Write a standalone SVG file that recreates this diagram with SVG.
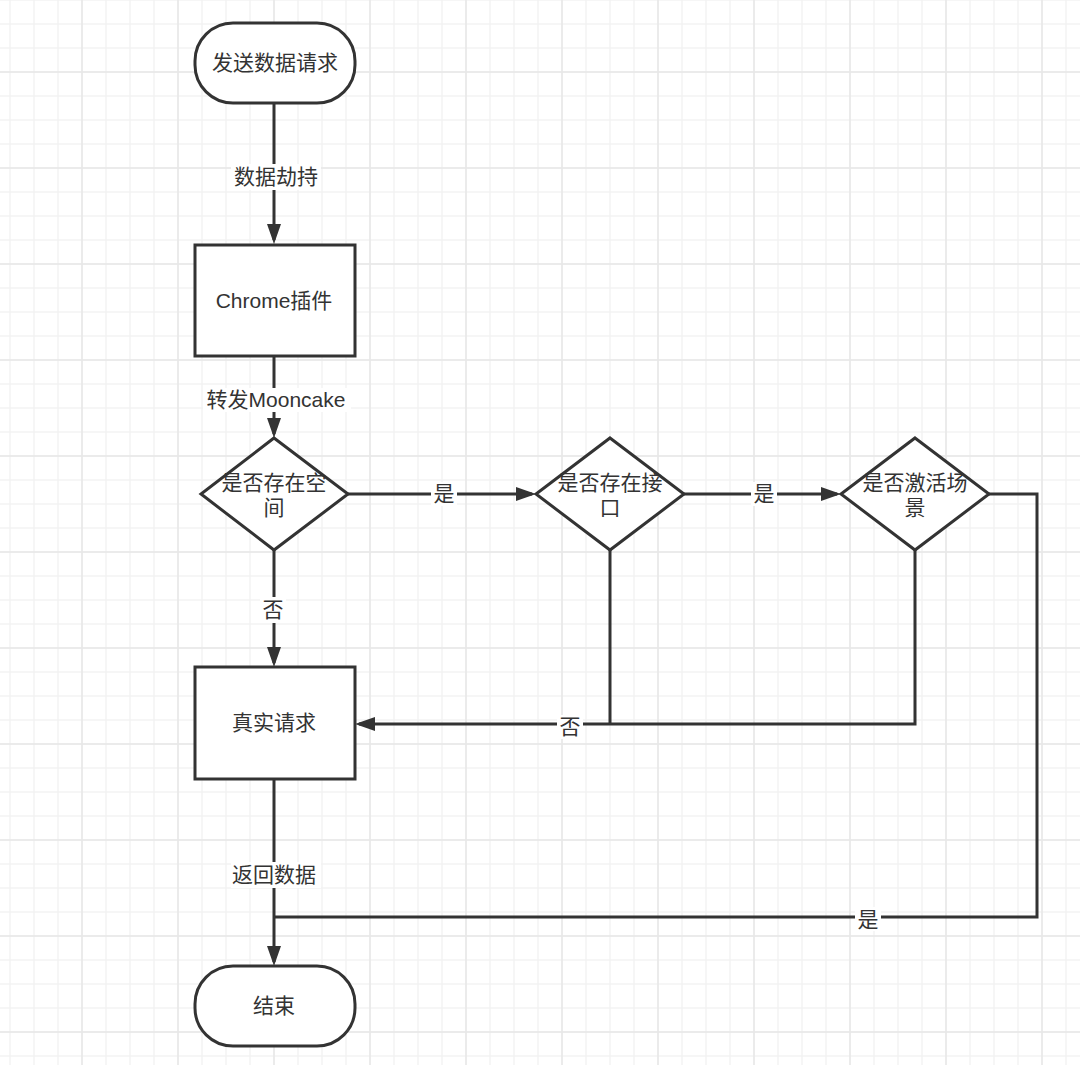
<svg xmlns="http://www.w3.org/2000/svg" width="1080" height="1065" viewBox="0 0 1080 1065">
  <defs>
    <pattern id="gMinor" patternUnits="userSpaceOnUse" x="-2" y="-12" width="24" height="24">
      <path d="M12 0V24M0 12H24" stroke="#f3f3f3" stroke-width="1.5" fill="none"/>
    </pattern>
    <pattern id="gMajor" patternUnits="userSpaceOnUse" x="34" y="24" width="96" height="96">
      <path d="M48 0V96M0 48H96" stroke="#e8e8e8" stroke-width="1.5" fill="none"/>
    </pattern>
    <marker id="arrow" viewBox="0 0 20 14" refX="16" refY="7" markerWidth="20" markerHeight="14" markerUnits="userSpaceOnUse" orient="auto">
      <path d="M0 0L20 7L0 14Z" fill="#333333"/>
    </marker>
  </defs>
  <style>
    .shape { fill: #ffffff; stroke: #333333; stroke-width: 3; }
    .conn { fill: none; stroke: #333333; stroke-width: 3; }
    .txt { font-family: "Liberation Sans", "Noto Sans CJK SC", sans-serif; font-size: 21px; fill: #333333; text-anchor: middle; }
    .lblbg { fill: #ffffff; }
  </style>
  <rect x="0" y="0" width="1080" height="1065" fill="#ffffff"/>
  <rect x="0" y="0" width="1080" height="1065" fill="url(#gMinor)"/>
  <rect x="0" y="0" width="1080" height="1065" fill="url(#gMajor)"/>

  <g id="connectors">
    <path class="conn" d="M274 103V240" marker-end="url(#arrow)"/>
    <path class="conn" d="M274 356V434" marker-end="url(#arrow)"/>
    <path class="conn" d="M348 494H532" marker-end="url(#arrow)"/>
    <path class="conn" d="M684 494H837" marker-end="url(#arrow)"/>
    <path class="conn" d="M274 550V663" marker-end="url(#arrow)"/>
    <path class="conn" d="M610 550V724"/>
    <path class="conn" d="M915 550V724H359" marker-end="url(#arrow)"/>
    <path class="conn" d="M989 494H1037V917H274"/>
    <path class="conn" d="M274 779V962" marker-end="url(#arrow)"/>

    <rect class="lblbg" x="231" y="164" width="90" height="26"/>
    <text class="txt" x="276" y="184">数据劫持</text>
    <rect class="lblbg" x="203" y="388" width="148" height="24"/>
    <text class="txt" x="276" y="407">转发Mooncake</text>
    <rect class="lblbg" x="431" y="482" width="26" height="24"/>
    <text class="txt" x="444" y="501">是</text>
    <rect class="lblbg" x="751" y="482" width="26" height="24"/>
    <text class="txt" x="764" y="501">是</text>
    <rect class="lblbg" x="260" y="597" width="26" height="26"/>
    <text class="txt" x="273" y="617">否</text>
    <rect class="lblbg" x="557" y="715" width="26" height="24"/>
    <text class="txt" x="570" y="734">否</text>
    <rect class="lblbg" x="231" y="862" width="90" height="26"/>
    <text class="txt" x="274" y="882">返回数据</text>
    <rect class="lblbg" x="855" y="907" width="26" height="24"/>
    <text class="txt" x="868" y="927">是</text>
  </g>

  <g id="start">
    <rect class="shape" x="195" y="23" width="160" height="80" rx="38" ry="38"/>
    <text class="txt" x="275" y="70">发送数据请求</text>
  </g>
  <g id="chrome">
    <rect class="shape" x="195" y="245" width="160" height="111"/>
    <text class="txt" x="274" y="308">Chrome插件</text>
  </g>
  <g id="d-space">
    <polygon class="shape" points="274,438 348,494 274,550 201,494"/>
    <text class="txt" x="274" y="490">是否存在空</text>
    <text class="txt" x="274" y="515">间</text>
  </g>
  <g id="d-api">
    <polygon class="shape" points="610,438 684,494 610,550 536,494"/>
    <text class="txt" x="610" y="490">是否存在接</text>
    <text class="txt" x="610" y="515">口</text>
  </g>
  <g id="d-scene">
    <polygon class="shape" points="915,438 989,494 915,550 841,494"/>
    <text class="txt" x="915" y="490">是否激活场</text>
    <text class="txt" x="915" y="515">景</text>
  </g>
  <g id="real">
    <rect class="shape" x="195" y="667" width="160" height="112"/>
    <text class="txt" x="274" y="730">真实请求</text>
  </g>
  <g id="end">
    <rect class="shape" x="195" y="966" width="160" height="80" rx="38" ry="38"/>
    <text class="txt" x="274" y="1013">结束</text>
  </g>
</svg>
